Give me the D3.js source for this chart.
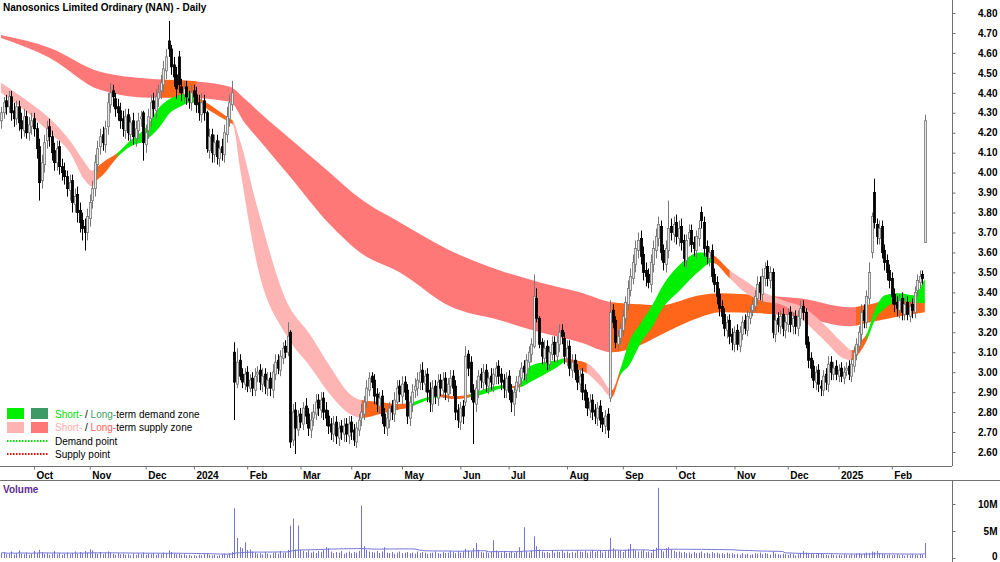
<!DOCTYPE html>
<html>
<head>
<meta charset="utf-8">
<script src="https://cdn.jsdelivr.net/npm/d3@7"></script>
<style>
  body { margin: 0; background: #fff; }
  svg { display: block; font-family: Arial, "Liberation Sans", sans-serif; }
  .axis text { font-size: 10px; font-weight: bold; fill: #000; }
  .axis line { stroke: #707070; }
</style>
</head>
<body>
<svg id="chart"></svg>
<script>
var title = "Nanosonics Limited Ordinary (NAN) - Daily";

// trading calendar
var startDate = "2023-09-13";
var endDate = "2025-02-20";
var holidays = ["2023-12-25", "2023-12-26", "2024-01-01", "2024-01-26", "2024-03-29", "2024-04-01",
  "2024-04-25", "2024-06-10", "2024-12-25", "2024-12-26", "2025-01-01", "2025-01-27"];
var monthLabels = ["Oct", "Nov", "Dec", "2024", "Feb", "Mar", "Apr", "May", "Jun", "Jul", "Aug",
  "Sep", "Oct", "Nov", "Dec", "2025", "Feb"];
var priceTicks = [2.6, 2.7, 2.8, 2.9, 3.0, 3.1, 3.2, 3.3, 3.4, 3.5, 3.6, 3.7, 3.8, 3.9, 4.0, 4.1,
  4.2, 4.3, 4.4, 4.5, 4.6, 4.7, 4.8];
var volumeTicks = [0, 5, 10];

// daily prices, cents
var opens = [
426,430,436,433,438,431,427,433,426,421, 428,420,423,427,422,413,396,404,416,423,
418,411,405,413,403,401,398,391,396,384, 389,381,376,373,370,377,386,392,404,413,
419,414,423,434,441,437,433,431,427,421, 429,419,426,417,421,427,430,414,421,427,
436,431,437,441,444,451,466,462,454,449, 458,443,439,443,437,435,441,439,435,429,
436,430,411,419,409,416,407,413,409,419, 427,434,310,294,306,299,294,300,292,297,
291,299,301,294,299,292,297,291,299,306, 301,307,313,310,320,266,281,271,279,274,
283,279,271,277,279,286,281,287,281,278, 274,269,275,267,273,269,274,268,275,271,
265,271,277,279,285,291,298,296,289,283, 288,279,272,276,283,279,285,293,288,295,
291,277,284,291,292,295,301,294,299,291, 284,293,287,296,291,297,289,293,298,293,
281,275,283,285,309,305,291,284,291,299, 295,301,293,298,294,298,303,299,296,291,
298,291,284,291,294,297,303,299,305,309, 313,337,327,315,307,313,304,309,315,308,
314,321,317,307,313,301,306,301,294,299, 291,287,281,286,281,277,283,277,273,279,
287,331,326,314,317,321,327,334,341,347, 354,361,367,359,351,349,344,354,361,367,
373,361,354,361,373,369,375,367,373,366, 356,367,371,365,361,367,380,375,363,357,
361,349,345,339,333,329,321,326,319,314, 321,313,319,326,321,327,331,333,337,345,
339,347,353,346,350,319,327,323,329,321, 324,330,323,328,322,327,333,330,315,307,
303,295,301,293,291,299,294,305,299,303, 298,302,297,301,303,298,303,309,313,319,
331,325,337,360,390,374,367,373,361,356, 351,347,339,335,331,337,329,335,328,334,
330,341,345,349,365];
var highs = [
433,438,439,441,441,435,436,436,430,432, 431,428,430,430,425,417,409,419,426,427,
421,415,416,416,407,405,401,399,399,392, 393,385,380,377,382,389,396,409,416,422,
423,426,440,445,444,440,437,435,431,432, 432,428,430,426,430,431,431,424,432,439,
440,442,444,449,456,462,476,464,458,453, 461,447,446,446,441,444,444,443,439,440,
439,431,422,422,419,419,416,417,424,433, 439,446,315,312,309,302,302,303,299,300,
302,303,304,302,302,300,300,304,309,309, 311,315,316,325,321,284,285,281,282,285,
287,282,280,284,289,289,290,290,285,281, 277,278,278,275,276,277,277,278,278,274,
275,279,284,288,296,300,300,299,292,290, 291,282,281,285,286,290,296,296,298,298,
294,288,294,297,300,304,305,301,302,295, 296,296,299,299,300,300,297,301,301,296,
284,285,286,313,311,308,294,296,301,302, 304,304,300,302,302,305,306,302,299,300,
301,294,293,298,301,305,306,309,313,317, 349,342,328,317,316,316,313,318,318,318,
324,324,320,316,316,309,309,304,302,302, 294,290,289,289,284,285,286,280,281,282,
336,334,328,321,325,331,338,346,352,359, 366,370,371,363,355,352,359,366,372,378,
376,364,366,386,377,378,379,376,377,369, 369,374,374,368,371,376,383,378,366,363,
364,352,348,342,336,332,328,329,322,323, 324,323,328,329,331,333,337,341,348,348,
352,355,356,353,352,329,330,331,332,328, 332,333,330,331,331,336,336,332,318,310,
306,303,304,296,301,302,308,308,305,306, 304,305,303,305,306,307,313,317,323,334,
334,341,355,380,397,377,376,376,364,359, 354,350,342,338,339,340,337,338,336,337,
343,349,351,351,429];
var lows = [
422,427,429,430,426,423,424,421,417,418, 417,416,419,418,407,386,392,400,412,413,
406,401,401,399,396,394,388,386,380,380, 375,370,366,361,366,373,382,388,400,409,
411,410,419,430,433,428,426,422,418,417, 416,415,414,413,417,423,406,410,417,423,
428,427,433,437,440,447,458,449,443,437, 440,436,435,434,432,431,434,430,426,425,
426,410,407,405,405,404,403,406,405,415, 423,431,276,292,296,292,291,290,290,288,
288,295,291,290,289,288,288,287,296,299, 298,304,307,308,262,263,259,268,272,271,
274,268,267,273,276,278,277,276,273,269, 266,265,264,263,266,265,265,264,266,263,
262,268,273,276,282,288,292,284,280,279, 274,269,268,272,276,275,281,285,284,286,
274,273,280,287,288,291,291,290,285,280, 280,284,283,288,287,286,285,289,288,276,
272,271,274,283,298,286,264,280,287,292, 291,290,289,291,290,294,294,291,287,287,
286,280,278,287,290,293,296,295,301,305, 312,325,312,304,304,301,301,306,305,305,
310,314,304,303,298,297,296,291,290,286, 282,278,277,276,274,273,272,270,269,267,
285,322,312,311,314,318,324,331,338,344, 350,357,354,346,343,342,340,350,357,363,
356,351,350,357,366,365,364,363,361,353, 352,363,360,358,357,363,372,358,354,353,
345,340,334,328,324,318,317,314,311,310, 311,310,316,319,318,324,328,330,334,336,
335,343,343,342,317,315,320,319,318,317, 320,320,319,319,318,323,326,312,302,297,
292,291,290,288,288,291,290,296,296,296, 295,295,294,298,296,295,300,306,310,315,
322,322,334,357,372,364,364,357,351,346, 342,334,330,328,327,326,326,326,325,327,
327,338,342,344,365];
var closes = [
430,435,433,438,430,427,433,425,422,428, 420,424,426,422,412,395,405,415,422,418,
410,405,412,403,400,398,392,395,385,388, 380,375,372,370,378,385,392,405,412,418,
415,422,435,440,438,432,430,426,422,428, 420,425,418,422,426,428,415,420,428,435,
432,438,440,445,452,458,462,453,448,442, 444,440,442,438,436,440,438,434,430,435,
430,412,418,410,415,408,412,410,420,428, 435,440,295,305,298,295,299,293,296,292,
298,300,295,298,293,296,292,300,305,302, 308,312,310,318,265,280,272,278,275,282,
278,272,276,280,285,282,286,280,277,273, 270,274,268,272,270,273,269,274,270,266,
272,276,280,285,292,297,295,288,284,287, 278,273,277,282,280,286,292,289,294,290,
278,285,290,293,296,300,295,298,290,285, 292,288,295,292,296,290,294,297,292,280,
276,282,278,308,302,290,285,292,298,296, 300,294,297,295,299,302,298,295,292,297,
290,285,290,295,298,302,300,306,310,314, 338,327,314,308,312,305,310,314,309,315,
320,318,308,312,302,305,300,295,298,290, 286,282,285,280,278,282,276,274,278,271,
330,325,315,318,322,328,335,342,348,355, 362,366,358,350,348,345,355,362,368,374,
360,355,362,372,370,374,368,372,365,357, 366,370,364,362,368,372,376,362,358,360,
348,344,338,332,328,322,325,318,315,320, 314,320,325,322,328,330,334,338,344,340,
348,352,347,350,320,326,324,328,322,325, 329,324,327,323,328,332,330,314,306,302,
296,300,294,292,298,295,304,300,302,299, 301,298,300,302,299,304,310,314,320,330,
326,338,350,378,375,368,372,360,355,350, 346,338,334,332,336,330,334,329,333,331,
340,346,348,347,426];

// daily volume, thousands of shares
var volumes = [
900,1100,700,800,1200,600,900,1400,800,700, 1000,600,800,1300,900,1500,1100,700,900,600,
800,1300,700,900,600,800,1000,700,900,1200, 800,1100,900,1300,1000,1600,1400,900,800,1100,
700,900,1200,1000,800,600,900,700,800,600, 700,500,800,600,900,700,1000,600,800,700,
900,600,800,700,1000,900,1400,1100,800,700, 800,600,700,500,600,400,500,400,600,500,
700,900,600,500,600,400,500,700,800,600, 900,1100,9200,3700,2000,1800,2900,1500,1600,1200,
1000,800,900,700,1100,800,600,900,1000,800, 1300,900,1000,1500,6000,7300,1600,6000,1500,1300,
1100,1400,1000,1200,900,1300,1100,1500,2000,1800, 1200,900,1100,1000,1300,800,1000,1200,900,1100,
1000,1300,9700,2200,1500,1200,1100,1000,1300,900, 1200,2000,1000,900,1100,800,1000,1200,900,1000,
1100,900,1000,800,1200,900,1100,1000,800,900, 1000,1200,900,800,1100,900,1000,1300,1100,900,
1300,1000,1200,1700,1400,1200,1800,2800,1500,1100, 1000,1200,900,1100,3300,1400,1100,1000,1300,900,
1000,1200,900,1100,2000,1300,5700,1200,1000,1400, 4000,2200,1600,1200,1000,1100,900,1300,1000,1200,
1100,1300,1000,1200,900,1100,1000,1400,1200,1100, 1300,1000,1200,1500,1100,1300,1400,1000,1200,1500,
3700,1800,1500,1300,1400,1100,1500,1700,2600,1700, 1400,1200,1300,1500,1100,1200,1000,1600,1900,13000,
1500,1200,1800,2000,1600,1300,1100,1200,1000,1100, 900,1000,800,1100,900,1000,1200,900,1000,800,
1100,900,1000,800,900,700,1000,800,900,700, 800,600,900,700,800,600,700,900,800,1000,
700,900,800,600,1200,800,700,600,800,700, 600,800,700,500,700,900,1300,1000,800,900,
700,600,800,900,700,600,500,700,600,500, 600,500,700,600,500,700,600,800,900,700,
800,1000,900,1200,1100,1300,900,800,700,600, 700,500,600,700,500,600,400,600,500,700,
600,500,700,600,2800];

// long-term zone: day index, upper, lower
var longIdx = [0, 19.3, 39, 58.7, 74.5, 90.2, 96, 102, 113.9, 129.6, 141.5, 157.2, 176.9, 196.6,
  212.4, 228.1, 240.7, 251.8, 259.7, 275.4, 283.3, 299, 314.8, 334.5, 342.4, 354.2, 364];
var longTop = [4.69, 4.625, 4.505, 4.47, 4.46, 4.43, 4.37, 4.30, 4.17, 4.00, 3.87, 3.75, 3.61, 3.51,
  3.45, 3.40, 3.35, 3.34, 3.335, 3.385, 3.395, 3.385, 3.37, 3.325, 3.34, 3.37, 3.36];
var longBot = [4.675, 4.575, 4.415, 4.375, 4.375, 4.355, 4.25, 4.16, 3.98, 3.74, 3.60, 3.50, 3.33, 3.26,
  3.20, 3.15, 3.10, 3.135, 3.185, 3.275, 3.30, 3.295, 3.275, 3.23, 3.25, 3.28, 3.30];
var longZones = [[0, 63, "supply"], [63, 77, "neutral"], [77, 240.7, "supply"], [240.7, 305, "neutral"],
  [305, 337, "supply"], [337, 364, "neutral"]];

// short-term zone: day index, upper, lower
var shortIdx = [0, 11.4, 19.3, 27.2, 33.1, 35.9, 37, 41, 46, 50.8, 56.7, 62.6, 66.6, 70.5, 74.5, 77.2,
  82.3, 90.2, 91.4, 94.2, 100.9, 112.7, 121.7, 129.6, 137.5, 142.2, 149.3, 156, 161.2, 167, 172.9,
  178.9, 184.8, 192.7, 197.8, 200.6, 204.5, 208.4, 213.6, 219.1, 222.2, 226.2, 230.9, 236, 240.7,
  243.9, 247.8, 251.8, 257.7, 259.7, 267.5, 275.4, 280.1, 287.2, 293.1, 299, 308.1, 316, 325.5,
  331.7, 335.3, 338.4, 341.2, 344.3, 348.3, 354.2, 359.3, 364];
var shortTop = [4.45, 4.35, 4.27, 4.16, 4.05, 4.01, 4.02, 4.06, 4.10, 4.16, 4.22, 4.33, 4.37, 4.39, 4.40, 4.38,
  4.34, 4.27, 4.26, 4.16, 3.83, 3.35, 3.19, 3.03, 2.89, 2.86, 2.85, 2.84, 2.845, 2.87, 2.89,
  2.88, 2.89, 2.925, 2.935, 2.93, 2.94, 3.03, 3.05, 3.06, 3.07, 3.06, 3.045, 2.985, 2.91,
  3.01, 3.16, 3.24, 3.36, 3.41, 3.54, 3.60, 3.59, 3.51, 3.46, 3.41, 3.36, 3.325, 3.225,
  3.145, 3.11, 3.15, 3.195, 3.31, 3.385, 3.395, 3.385, 3.47];
var shortBot = [4.40, 4.29, 4.20, 4.10, 3.96, 3.93, 3.95, 4.00, 4.08, 4.13, 4.16, 4.23, 4.30, 4.33, 4.35, 4.35,
  4.31, 4.25, 4.24, 4.02, 3.54, 3.18, 3.03, 2.89, 2.79, 2.77, 2.79, 2.81, 2.825, 2.855, 2.875,
  2.865, 2.875, 2.90, 2.92, 2.92, 2.925, 2.95, 2.985, 3.025, 3.05, 3.02, 2.995, 2.935, 2.875,
  2.98, 3.04, 3.14, 3.25, 3.30, 3.41, 3.51, 3.55, 3.47, 3.40, 3.36, 3.335, 3.26, 3.145,
  3.07, 3.06, 3.10, 3.16, 3.26, 3.32, 3.355, 3.35, 3.345];
var shortZones = [[0, 37, "supply"], [37, 46, "neutral"], [46, 77.2, "demand"], [77.2, 91.4, "neutral"],
  [91.4, 142.2, "supply"], [142.2, 161.2, "neutral"], [161.2, 172.9, "demand"], [172.9, 184.8, "neutral"],
  [184.8, 200.6, "demand"], [200.6, 204.5, "neutral"], [204.5, 222.2, "demand"], [222.2, 230.9, "neutral"],
  [230.9, 240.7, "supply"], [240.7, 243.9, "neutral"], [243.9, 280.1, "demand"], [280.1, 287.2, "neutral"],
  [287.2, 335.3, "supply"], [335.3, 341.2, "neutral"], [341.2, 364, "demand"]];

var longColor = { supply: "#ff7878", neutral: "#ff661a" };
var shortColor = { supply: "#ffb4b4", neutral: "#ff661a", demand: "#00f000" };

var w = 1000;
var h = 562;
var axisX = 952;
var priceBottom = 466;
var volTop = 480;

var svg = d3.select("#chart")
  .attr("width", w)
  .attr("height", h);

// trading days
var parse = d3.utcParse("%Y-%m-%d");
var fmt = d3.utcFormat("%Y-%m-%d");
var days = [];
for (var d = parse(startDate); d <= parse(endDate); d = d3.utcDay.offset(d, 1)) {
  var wd = d.getUTCDay();
  if (wd === 0 || wd === 6) continue;
  if (holidays.indexOf(fmt(d)) >= 0) continue;
  days.push(d);
}
var monthStarts = [];
days.forEach(function(day, i) {
  if (i > 0 && day.getUTCMonth() !== days[i - 1].getUTCMonth()) monthStarts.push(i);
});

var xScale = d3.scaleLinear()
  .domain([0, days.length - 1])
  .range([1, 924.8]);

var yScale = d3.scaleLinear()
  .domain([2.6, 4.8])
  .range([452, 13]);

var vScale = d3.scaleLinear()
  .domain([0, 10])
  .range([558, 504]);

// zones
var defs = svg.append("defs");
var clipCount = 0;

function drawBand(idx, top, bot, zones, colors) {
  var pts = idx.map(function(v, k) { return [v, top[k], bot[k]]; });
  var area = d3.area()
    .x(function(p) { return xScale(p[0]); })
    .y0(function(p) { return yScale(p[2]); })
    .y1(function(p) { return yScale(p[1]); })
    .curve(d3.curveMonotoneX);
  zones.forEach(function(z) {
    var id = "clip" + (clipCount++);
    defs.append("clipPath").attr("id", id)
      .append("rect")
      .attr("x", xScale(z[0]) - 0.3)
      .attr("y", 0)
      .attr("width", xScale(z[1]) - xScale(z[0]) + 0.6)
      .attr("height", priceBottom);
    svg.append("path")
      .attr("d", area(pts))
      .attr("fill", colors[z[2]])
      .attr("clip-path", "url(#" + id + ")");
  });
}

drawBand(longIdx, longTop, longBot, longZones, longColor);
drawBand(shortIdx, shortTop, shortBot, shortZones, shortColor);

// candles
var candles = days.map(function(day, i) {
  return { i: i, o: opens[i] / 100, h: highs[i] / 100, l: lows[i] / 100, c: closes[i] / 100 };
});

var cg = svg.append("g");
cg.selectAll("line")
  .data(candles)
  .enter()
  .append("line")
  .attr("x1", function(d) { return Math.round(xScale(d.i)) + 0.5; })
  .attr("x2", function(d) { return Math.round(xScale(d.i)) + 0.5; })
  .attr("y1", function(d) { return yScale(d.h); })
  .attr("y2", function(d) { return yScale(d.l); })
  .attr("stroke", function(d) { return d.c >= d.o ? "#777" : "#000"; })
  .attr("stroke-width", 1);

cg.selectAll("rect")
  .data(candles)
  .enter()
  .append("rect")
  .attr("x", function(d) { return Math.round(xScale(d.i)) - 0.6; })
  .attr("width", 2.2)
  .attr("y", function(d) { return yScale(Math.max(d.o, d.c)); })
  .attr("height", function(d) { return Math.max(1, Math.abs(yScale(d.o) - yScale(d.c))); })
  .attr("fill", function(d) { return d.c >= d.o ? "#e6e6e6" : "#000"; })
  .attr("stroke", function(d) { return d.c >= d.o ? "#777" : "#000"; })
  .attr("stroke-width", 0.8);

// volume
var vg = svg.append("g");
vg.selectAll("line")
  .data(volumes)
  .enter()
  .append("line")
  .attr("x1", function(v, i) { return Math.round(xScale(i)) + 0.5; })
  .attr("x2", function(v, i) { return Math.round(xScale(i)) + 0.5; })
  .attr("y1", vScale(0))
  .attr("y2", function(v) { return vScale(v / 1000); })
  .attr("stroke", "#7474d8")
  .attr("stroke-width", 1);

var volAvg = volumes.map(function(v, i) {
  return d3.mean(volumes.slice(Math.max(0, i - 49), i + 1)) / 1000;
});
vg.append("path")
  .attr("d", d3.line()
    .x(function(v, i) { return xScale(i); })
    .y(function(v) { return vScale(v); })(volAvg))
  .attr("fill", "none")
  .attr("stroke", "#7474d8")
  .attr("stroke-width", 1);

// frame lines
svg.append("line").attr("x1", 0).attr("x2", axisX).attr("y1", priceBottom + 0.5).attr("y2", priceBottom + 0.5)
  .attr("stroke", "#707070");
svg.append("line").attr("x1", 0).attr("x2", w).attr("y1", volTop + 0.5).attr("y2", volTop + 0.5)
  .attr("stroke", "#707070");
svg.append("line").attr("x1", axisX + 0.5).attr("x2", axisX + 0.5).attr("y1", 0).attr("y2", priceBottom)
  .attr("stroke", "#707070");
svg.append("line").attr("x1", axisX + 0.5).attr("x2", axisX + 0.5).attr("y1", volTop).attr("y2", h)
  .attr("stroke", "#707070");

// axes
var xAxis = d3.axisBottom(xScale)
  .tickValues(monthStarts)
  .tickSize(3)
  .tickFormat(function(d, k) { return monthLabels[k]; });
var gx = svg.append("g")
  .attr("class", "axis")
  .attr("transform", "translate(0," + (priceBottom + 0.5) + ")")
  .call(xAxis);
gx.select(".domain").remove();
gx.selectAll("text").attr("text-anchor", "start").attr("x", 2).attr("y", 5);

var yAxis = d3.axisRight(yScale)
  .tickValues(priceTicks)
  .tickSize(3)
  .tickFormat(d3.format(".2f"));
var gy = svg.append("g")
  .attr("class", "axis")
  .attr("transform", "translate(" + (axisX + 0.5) + ",0)")
  .call(yAxis);
gy.select(".domain").remove();
gy.selectAll("text").attr("text-anchor", "end").attr("x", 45);

var vAxis = d3.axisRight(vScale)
  .tickValues(volumeTicks)
  .tickSize(3)
  .tickFormat(function(d) { return d === 0 ? "0" : d + "M"; });
var gv = svg.append("g")
  .attr("class", "axis")
  .attr("transform", "translate(" + (axisX + 0.5) + ",0)")
  .call(vAxis);
gv.select(".domain").remove();
gv.selectAll("text").attr("text-anchor", "end").attr("x", 45)
  .attr("y", function(d) { return d === 0 ? -2 : 0; });

// titles
svg.append("text")
  .attr("x", 3).attr("y", 11)
  .attr("font-size", 10).attr("font-weight", "bold")
  .text(title);

svg.append("text")
  .attr("x", 3).attr("y", 493)
  .attr("font-size", 10).attr("font-weight", "bold")
  .attr("fill", "#5b2c8f")
  .text("Volume");

// legend
var lg = svg.append("g").attr("font-size", 10);
var swatches = [
  [7, 408, "#00f000"], [31, 408, "#3c9a66"],
  [7, 422, "#ffb4b4"], [31, 422, "#ff7878"]
];
lg.selectAll("rect")
  .data(swatches)
  .enter()
  .append("rect")
  .attr("x", function(s) { return s[0]; })
  .attr("y", function(s) { return s[1]; })
  .attr("width", 17)
  .attr("height", 11)
  .attr("fill", function(s) { return s[2]; });

lg.append("line").attr("x1", 7).attr("x2", 48).attr("y1", 441).attr("y2", 441)
  .attr("stroke", "#00e000").attr("stroke-width", 2).attr("stroke-dasharray", "1.5,1.5");
lg.append("line").attr("x1", 7).attr("x2", 48).attr("y1", 454).attr("y2", 454)
  .attr("stroke", "#ff0000").attr("stroke-width", 2).attr("stroke-dasharray", "1.5,1.5");

var t1 = lg.append("text").attr("x", 55).attr("y", 417.5);
t1.append("tspan").attr("fill", "#00dd00").text("Short-");
t1.append("tspan").attr("fill", "#000").text(" / ");
t1.append("tspan").attr("fill", "#3a9d62").text("Long-");
t1.append("tspan").attr("fill", "#000").text("term demand zone");

var t2 = lg.append("text").attr("x", 55).attr("y", 430.5);
t2.append("tspan").attr("fill", "#ffaaaa").text("Short-");
t2.append("tspan").attr("fill", "#000").text(" / ");
t2.append("tspan").attr("fill", "#ff6060").text("Long-");
t2.append("tspan").attr("fill", "#000").text("term supply zone");

lg.append("text").attr("x", 55).attr("y", 444.5).text("Demand point");
lg.append("text").attr("x", 55).attr("y", 457.5).text("Supply point");
</script>
</body>
</html>
